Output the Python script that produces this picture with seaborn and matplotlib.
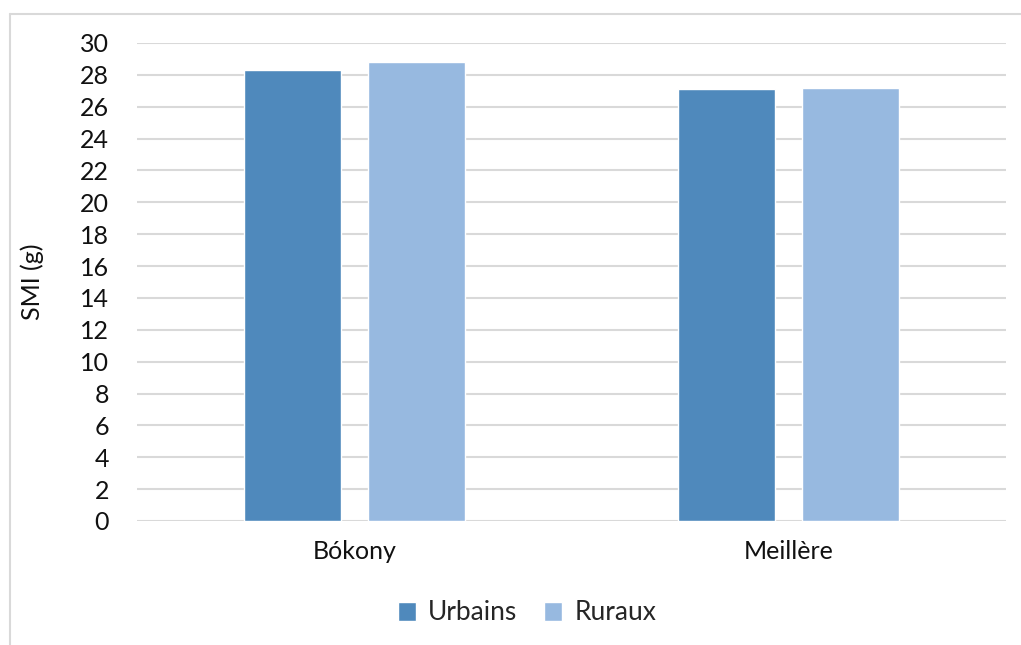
import numpy as np
import pandas as pd
import matplotlib
matplotlib.use("Agg")
import matplotlib.pyplot as plt
from matplotlib.lines import Line2D
import seaborn as sns

sites = ["Bókony", "Meillère"]
groups = ["Urbains", "Ruraux"]
urbains = [28.3, 27.1]
ruraux = [28.8, 27.2]
yticks = list(range(0, 31, 2))

df = pd.DataFrame({
    "site": sites * 2,
    "groupe": [groups[0]] * 2 + [groups[1]] * 2,
    "smi": urbains + ruraux,
})

sns.set_style("white")
plt.rcParams["font.family"] = ["Lato", "DejaVu Sans"]

fig = plt.figure(figsize=(10.21, 6.45), dpi=100)
ax = fig.add_axes([137 / 1021, 1 - 521 / 645, 869 / 1021, 478 / 645])

sns.barplot(data=df, x="site", y="smi", hue="groupe", hue_order=groups,
            palette=["#4F89BC", "#97B9E0"], width=0.572, gap=0.22,
            saturation=1, ax=ax)

ax.set_ylim(0, 30)
ax.set_xlim(-0.5, 1.5)
ax.set_yticks(yticks)
ax.yaxis.grid(True, color="#D9D9D9", linewidth=1.5)
ax.set_axisbelow(True)
for s in ax.spines.values():
    s.set_visible(False)
ax.tick_params(axis="both", length=0, labelsize=18, colors="#111111")
ax.tick_params(axis="y", pad=20)
ax.tick_params(axis="x", pad=14)
ax.set_xlabel("")
ax.set_ylabel("SMI (g)", fontsize=18, color="#111111", labelpad=26)

ax.legend(loc="center", bbox_to_anchor=(527 / 1021, 1 - 613 / 645),
          bbox_transform=fig.transFigure, ncol=2, frameon=False,
          fontsize=19, handlelength=0.7, handleheight=0.7,
          handletextpad=0.45, columnspacing=1.0)

fig.add_artist(Line2D([10 / 1021, 1], [1 - 14 / 645, 1 - 14 / 645],
                      transform=fig.transFigure, color="#D9D9D9", linewidth=1.5))
fig.add_artist(Line2D([10 / 1021, 10 / 1021], [0, 1 - 14 / 645],
                      transform=fig.transFigure, color="#D9D9D9", linewidth=1.5))

fig.savefig("out.png", dpi=100)
